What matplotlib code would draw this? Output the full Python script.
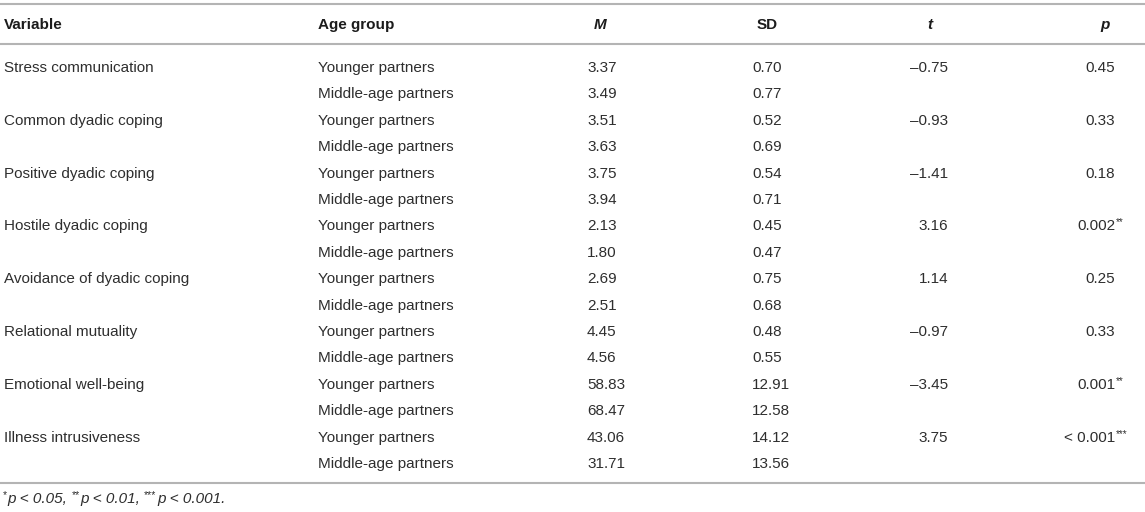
import matplotlib
matplotlib.use("Agg")
import matplotlib.pyplot as plt

# table content
variables = ["Stress communication", "Common dyadic coping", "Positive dyadic coping",
             "Hostile dyadic coping", "Avoidance of dyadic coping", "Relational mutuality",
             "Emotional well-being", "Illness intrusiveness"]
groups = ["Younger partners", "Middle-age partners"]
m_young = [3.37, 3.51, 3.75, 2.13, 2.69, 4.45, 58.83, 43.06]
m_mid = [3.49, 3.63, 3.94, 1.80, 2.51, 4.56, 68.47, 31.71]
sd_young = [0.70, 0.52, 0.54, 0.45, 0.75, 0.48, 12.91, 14.12]
sd_mid = [0.77, 0.69, 0.71, 0.47, 0.68, 0.55, 12.58, 13.56]
t_vals = [-0.75, -0.93, -1.41, 3.16, 1.14, -0.97, -3.45, 3.75]
p_vals = ["0.45", "0.33", "0.18", "0.002", "0.25", "0.33", "0.001", "< 0.001"]
p_stars = ["", "", "", "**", "", "", "**", "***"]
headers = ["Variable", "Age group", "M", "SD", "t", "p"]

FONT = "Liberation Sans"
TXT = "#2e2e2e"
LINE = "#b4b4b4"
FS = 11

fig = plt.figure(figsize=(11.45, 5.12), dpi=100)
ax = fig.add_axes([0, 0, 1, 1])
ax.set_xlim(0, 1145)
ax.set_ylim(512, 0)
ax.axis("off")

# rules
for y in (4, 44, 483):
    ax.plot([0, 1145], [y, y], color=LINE, lw=1.5, solid_capstyle="butt")

# header
hy = 25
hdr_x = [4, 318, 600, 767, 930, 1105]
hdr_ha = ["left", "left", "center", "center", "center", "center"]
hdr_style = ["normal", "normal", "italic", "normal", "italic", "italic"]
for h, x, ha, st in zip(headers, hdr_x, hdr_ha, hdr_style):
    ax.text(x, hy, h, ha=ha, va="center", fontsize=FS, fontweight="bold",
            fontstyle=st, family=FONT, color="#1c1c1c")

# body rows
y0, dy = 68, 26.4
for i, var in enumerate(variables):
    ya = y0 + dy * (2 * i)
    yb = ya + dy
    ax.text(4, ya, var, ha="left", va="center", fontsize=FS, family=FONT, color=TXT)
    ax.text(318, ya, groups[0], ha="left", va="center", fontsize=FS, family=FONT, color=TXT)
    ax.text(318, yb, groups[1], ha="left", va="center", fontsize=FS, family=FONT, color=TXT)
    ax.text(587, ya, f"{m_young[i]:.2f}", ha="left", va="center", fontsize=FS, family=FONT, color=TXT)
    ax.text(587, yb, f"{m_mid[i]:.2f}", ha="left", va="center", fontsize=FS, family=FONT, color=TXT)
    ax.text(752, ya, f"{sd_young[i]:.2f}", ha="left", va="center", fontsize=FS, family=FONT, color=TXT)
    ax.text(752, yb, f"{sd_mid[i]:.2f}", ha="left", va="center", fontsize=FS, family=FONT, color=TXT)
    ax.text(948, ya, f"{t_vals[i]:.2f}".replace("-", "\u2013"), ha="right", va="center",
            fontsize=FS, family=FONT, color=TXT)
    ptxt = ax.text(1115, ya, p_vals[i], ha="right", va="center", fontsize=FS, family=FONT, color=TXT)
    if p_stars[i]:
        ax.annotate(p_stars[i], xy=(1, ya - 4), xycoords=(ptxt, "data"),
                    xytext=(0.5, 0), textcoords="offset points",
                    ha="left", va="center", fontsize=7, family=FONT, color=TXT)

# footnote with superscript stars
fy = 503
pieces = [("*", True), ("p < 0.05,", False), ("**", True), ("p < 0.01,", False),
          ("***", True), ("p < 0.001.", False)]
prev = None
for k, (s, sup) in enumerate(pieces):
    yy = fy - 5 if sup else fy
    kw = dict(ha="left", va="baseline", family=FONT, color=TXT,
              fontsize=7.5 if sup else 11, fontstyle="normal" if sup else "italic")
    if prev is None:
        prev = ax.text(3, yy, s, **kw)
    else:
        gap = 3 if sup else 0.3
        prev = ax.annotate(s, xy=(1, yy), xycoords=(prev, "data"),
                           xytext=(gap, 0), textcoords="offset points", **kw)

fig.savefig("out.png", dpi=100)
